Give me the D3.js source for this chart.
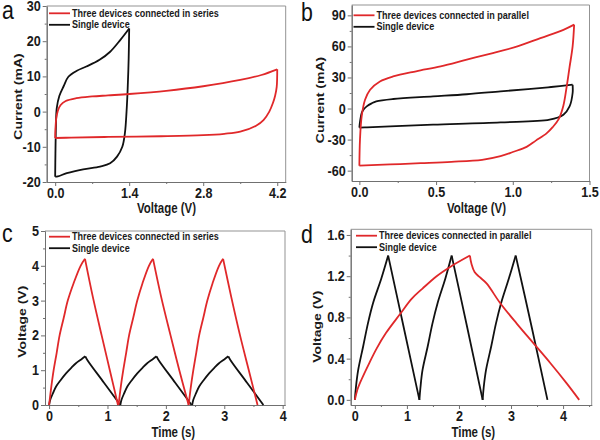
<!DOCTYPE html>
<html><head><meta charset="utf-8">
<script src="https://cdn.jsdelivr.net/npm/d3@7"></script>
<style>body{margin:0;background:#fff}svg{display:block}text{font-family:"Liberation Sans",Arial,sans-serif}</style>
</head><body><svg id="chart" width="600" height="440"></svg>
<script>
// ---------- DATA ----------
// Panel a: CV, series (red) & single (black) — [voltage V, current mA]
const aSeriesUpper = [[0,-7.5],[0.005,-5],[0.02,-2],[0.05,0.2],[0.1,1.8],[0.2,3.0],[0.4,3.8],[0.7,4.3],[1.0,4.6],[1.4,5.0],[2.1,5.9],[2.8,7.2],[3.5,9.0],[3.9,10.4],[4.2,12]];
const aSeriesLower = [[4.2,12],[4.19,7],[4.16,4.5],[4.12,2.5],[4.05,0],[3.94,-2.4],[3.8,-4.0],[3.5,-5.7],[3.2,-6.3],[2.8,-6.7],[2.0,-7.0],[1.0,-7.2],[0.3,-7.4],[0,-7.5]];
const aSingleUpper = [[0.0,-18.5],[0.005,-12],[0.015,-4],[0.03,1],[0.08,4.5],[0.16,7.2],[0.25,9.9],[0.41,11.6],[0.59,12.8],[0.84,14.7],[1.04,17],[1.23,20.3],[1.4,23.6]];
const aSingleLower = [[1.4,23.6],[1.39,15],[1.37,6],[1.35,0],[1.32,-6],[1.27,-10],[1.17,-12.8],[1.04,-14.7],[0.85,-15.6],[0.53,-16.4],[0.22,-17.5],[0.05,-18.4],[0.0,-18.5]];
// Panel b: CV, parallel (red) & single (black)
const bParallelUpper = [[0,-55.2],[0.004,-30],[0.015,-7.6],[0.037,8.5],[0.07,18.2],[0.134,26.2],[0.22,31],[0.37,36],[0.53,40.7],[0.7,47.2],[0.87,53.6],[1.03,60],[1.18,68],[1.33,76],[1.4,81]];
const bParallelLower = [[1.4,81],[1.39,60],[1.37,40],[1.35,20],[1.33,3],[1.30,-10],[1.26,-18],[1.22,-24],[1.15,-31],[1.09,-37],[1.0,-42],[0.92,-46],[0.8,-49.5],[0.6,-51.5],[0.4,-52.8],[0.2,-54],[0,-55.2]];
const bSingleUpper = [[0,-18.5],[0.005,-12],[0.015,-4.3],[0.03,-0.5],[0.048,2.1],[0.08,5],[0.11,6.9],[0.22,9.2],[0.48,11.7],[0.7,13.8],[0.92,16.6],[1.1,18.8],[1.25,20.8],[1.39,23]];
const bSingleLower = [[1.39,23],[1.39,15],[1.37,2],[1.33,-6],[1.24,-10.8],[0.92,-13.4],[0.48,-15.6],[0.2,-17.2],[0.05,-18.2],[0,-18.5]];
// Panel c: GCD, series (red) & single (black) — [time s, voltage V]
const cSeries = [
  [[0,0],[0.04,0.55],[0.078,1.0],[0.13,1.5],[0.18,2.0],[0.25,2.5],[0.32,3.0],[0.42,3.5],[0.54,4.0],[0.615,4.2]],
  [[0.615,4.2],[0.75,3.1],[0.9,2.0],[1.04,1.0],[1.18,0]],
  [[1.19,0],[1.23,0.55],[1.27,1.0],[1.32,1.5],[1.37,2.0],[1.44,2.5],[1.51,3.0],[1.6,3.5],[1.71,4.0],[1.78,4.2]],
  [[1.78,4.2],[1.92,3.1],[2.08,2.0],[2.23,1.0],[2.39,0]],
  [[2.39,0],[2.43,0.55],[2.47,1.0],[2.52,1.5],[2.57,2.0],[2.64,2.5],[2.71,3.0],[2.8,3.5],[2.91,4.0],[2.98,4.2]],
  [[2.98,4.2],[3.12,3.1],[3.27,2.0],[3.42,1.0],[3.57,0]]
];
const cSingle = [
  [[0,0],[0.02,0.15],[0.067,0.34],[0.12,0.53],[0.2,0.72],[0.29,0.91],[0.38,1.07],[0.46,1.2],[0.55,1.31],[0.62,1.4]],
  [[0.62,1.4],[0.66,1.28],[0.94,0.64],[1.22,0]],
  [[1.22,0],[1.24,0.15],[1.287,0.34],[1.34,0.53],[1.42,0.72],[1.51,0.91],[1.6,1.07],[1.68,1.2],[1.77,1.31],[1.84,1.4]],
  [[1.84,1.4],[1.88,1.28],[2.16,0.64],[2.44,0]],
  [[2.45,0],[2.47,0.15],[2.517,0.34],[2.57,0.53],[2.65,0.72],[2.74,0.91],[2.83,1.07],[2.91,1.2],[3.0,1.31],[3.07,1.4]],
  [[3.07,1.4],[3.11,1.28],[3.39,0.64],[3.67,0]]
];
// Panel d: GCD, parallel (red) & single (black)
const dParallel = [
  [[0,0],[0.05,0.1],[0.13,0.2],[0.27,0.35],[0.42,0.5],[0.6,0.65],[0.865,0.83],[1.09,0.98],[1.3,1.08],[1.57,1.2],[1.83,1.29],[2.21,1.4]],
  [[2.21,1.4],[2.24,1.32],[2.3,1.24],[2.4,1.19],[2.53,1.13],[2.79,0.94],[3.11,0.74],[3.43,0.55],[3.75,0.36],[4.07,0.16],[4.31,0]]
];
const dSingle = [
  [[0,0],[0.02,0.12],[0.064,0.29],[0.16,0.52],[0.25,0.74],[0.35,0.94],[0.51,1.18],[0.64,1.4]],
  [[0.64,1.4],[0.94,0.7],[1.24,0]],
  [[1.24,0],[1.26,0.12],[1.30,0.29],[1.40,0.52],[1.49,0.74],[1.59,0.94],[1.74,1.18],[1.86,1.4]],
  [[1.86,1.4],[2.16,0.7],[2.455,0]],
  [[2.455,0],[2.475,0.12],[2.52,0.29],[2.62,0.52],[2.71,0.74],[2.81,0.94],[2.96,1.18],[3.09,1.4]],
  [[3.09,1.4],[3.40,0.7],[3.70,0]]
];
// Ticks
const aXTicks = [0,1.4,2.8,4.2], aXLabels = ["0.0","1.4","2.8","4.2"], aXMinor = [0.7,2.1,3.5];
const aYTicks = [-20,-10,0,10,20,30], aYLabels = ["-20","-10","0","10","20","30"], aYMinor = [-15,-5,5,15,25];
const bXTicks = [0,0.5,1.0,1.5], bXLabels = ["0.0","0.5","1.0","1.5"], bXMinor = [0.25,0.75,1.25];
const bYTicks = [-60,-30,0,30,60,90], bYLabels = ["-60","-30","0","30","60","90"], bYMinor = [-45,-15,15,45,75];
const cXTicks = [0,1,2,3,4], cXLabels = ["0","1","2","3","4"], cXMinor = [0.5,1.5,2.5,3.5];
const cYTicks = [0,1,2,3,4,5], cYLabels = ["0","1","2","3","4","5"], cYMinor = [0.5,1.5,2.5,3.5,4.5];
const dXTicks = [0,1,2,3,4], dXLabels = ["0","1","2","3","4"], dXMinor = [0.5,1.5,2.5,3.5,4.5];
const dYTicks = [0,0.4,0.8,1.2,1.6], dYLabels = ["0.0","0.4","0.8","1.2","1.6"], dYMinor = [0.2,0.6,1.0,1.4];
const legendSeries = ["Three devices connected in series","Single device"];
const legendParallel = ["Three devices connected in parallel","Single device"];

// ---------- DRAW ----------
const svg = d3.select('#chart');
const RED = '#e0282a', BLACK = '#111', AX = '#707070', TXT = '#1a1a1a';
const SX = 0.82, SXT = 0.9;

function htext(g, x, y, s, size, weight, anchor, sx, fill) {
  g.append('text').attr('transform', `translate(${x},${y}) scale(${sx},1)`)
    .attr('text-anchor', anchor).attr('font-size', size).attr('font-weight', weight)
    .attr('fill', fill || TXT).text(s);
}
function vtext(g, x, y, s, size) {
  g.append('text').attr('transform', `translate(${x},${y}) scale(${SX},1) rotate(-90)`)
    .attr('text-anchor', 'middle').attr('font-size', size).attr('font-weight', 'bold')
    .attr('fill', TXT).text(s);
}

function panel(cfg) {
  const g = svg.append('g');
  const x = d3.scaleLinear().domain(cfg.xDomain).range(cfg.xRange);
  const y = d3.scaleLinear().domain(cfg.yDomain).range(cfg.yRange);
  const [x0, x1] = cfg.xRange, [y0, y1] = cfg.yRange;
  // top/right frame
  g.append('path').attr('d', `M${x0},${y1}H${x1}V${y0}`).attr('fill','none').attr('stroke','#939393').attr('stroke-width',1);

  const styleAxis = sel => { sel.select('.domain').attr('stroke', AX); sel.selectAll('line').attr('stroke', AX); };
  // minor ticks
  g.append('g').attr('transform', `translate(0,${y0})`)
    .call(d3.axisBottom(x).tickValues(cfg.xMinor).tickFormat('').tickSize(2).tickSizeOuter(0)).call(styleAxis);
  g.append('g').attr('transform', `translate(${x0},0)`)
    .call(d3.axisLeft(y).tickValues(cfg.yMinor).tickFormat('').tickSize(2).tickSizeOuter(0)).call(styleAxis);
  // major
  const xa = g.append('g').attr('transform', `translate(0,${y0})`)
    .call(d3.axisBottom(x).tickValues(cfg.xTicks).tickFormat((d,i)=>cfg.xLabels[i]).tickSize(4).tickSizeOuter(0).tickPadding(2)).call(styleAxis);
  xa.selectAll('text').attr('font-size', 14).attr('font-weight','bold').attr('fill', TXT)
    .attr('font-family','"Liberation Sans",Arial,sans-serif').attr('transform', `scale(${SXT},1)`);
  const ya = g.append('g').attr('transform', `translate(${x0},0)`)
    .call(d3.axisLeft(y).tickValues(cfg.yTicks).tickFormat((d,i)=>cfg.yLabels[i]).tickSize(4).tickSizeOuter(0).tickPadding(2)).call(styleAxis);
  ya.selectAll('text').attr('font-size', 14).attr('font-weight','bold').attr('fill', TXT)
    .attr('font-family','"Liberation Sans",Arial,sans-serif')
    .attr('x', function(){ return (+this.getAttribute('x')) / SXT; })
    .attr('transform', `scale(${SXT},1)`);

  const line = d3.line().x(d=>x(d[0])).y(d=>y(d[1])).curve(d3.curveCatmullRom.alpha(0.5));
  const draw = (segs, color) => segs.forEach(s => g.append('path').attr('d', line(s))
    .attr('fill','none').attr('stroke', color).attr('stroke-width', 1.8).attr('stroke-linejoin','round'));
  draw(cfg.black, BLACK);
  draw(cfg.red, RED);

  // legend
  const lx = cfg.legend[0], ly = cfg.legend[1];
  [[RED, cfg.legendText[0], 0], [BLACK, cfg.legendText[1], 11.5]].forEach(([c, t, dy]) => {
    g.append('line').attr('x1', lx).attr('x2', lx + 21).attr('y1', ly + dy).attr('y2', ly + dy)
      .attr('stroke', c).attr('stroke-width', 1.8);
    htext(g, lx + 23, ly + dy + 3.6, t, 10.5, 'bold', 'start', 0.86);
  });
  // titles
  htext(g, cfg.xTitlePos[0], cfg.xTitlePos[1], cfg.xTitle, 14, 'bold', 'middle', SX);
  vtext(g, cfg.yTitlePos[0], cfg.yTitlePos[1], cfg.yTitle, 14);
  htext(g, cfg.letterPos[0], cfg.letterPos[1], cfg.letter, 26, 'normal', 'start', SX, '#111');
}

panel({ xDomain:[-0.16,4.36], xRange:[46.7,285.7], yDomain:[-20,30], yRange:[182,6],
  xTicks:aXTicks, xLabels:aXLabels, xMinor:aXMinor, yTicks:aYTicks, yLabels:aYLabels, yMinor:aYMinor,
  red:[aSeriesUpper,aSeriesLower], black:[aSingleUpper,aSingleLower],
  legend:[49,13.3], legendText:legendSeries,
  xTitle:'Voltage (V)', xTitlePos:[166.5,213], yTitle:'Current (mA)', yTitlePos:[22,96.5],
  letter:'a', letterPos:[2,19] });

panel({ xDomain:[-0.05,1.5], xRange:[351.7,589.5], yDomain:[-70,100], yRange:[181,5],
  xTicks:bXTicks, xLabels:bXLabels, xMinor:bXMinor, yTicks:bYTicks, yLabels:bYLabels, yMinor:bYMinor,
  red:[bParallelUpper,bParallelLower], black:[bSingleUpper,bSingleLower],
  legend:[353.5,15.3], legendText:legendParallel,
  xTitle:'Voltage (V)', xTitlePos:[476.5,213], yTitle:'Current (mA)', yTitlePos:[324,100],
  letter:'b', letterPos:[301,21] });

panel({ xDomain:[-0.07,4.04], xRange:[45,285], yDomain:[0,5], yRange:[405,231],
  xTicks:cXTicks, xLabels:cXLabels, xMinor:cXMinor, yTicks:cYTicks, yLabels:cYLabels, yMinor:cYMinor,
  red:cSeries, black:cSingle,
  legend:[49,236.7], legendText:legendSeries,
  xTitle:'Time (s)', xTitlePos:[173.3,436.5], yTitle:'Voltage (V)', yTitlePos:[26,321.7],
  letter:'c', letterPos:[2,242] });

panel({ xDomain:[-0.08,4.55], xRange:[350.7,591.7], yDomain:[-0.05,1.655], yRange:[405,229.3],
  xTicks:dXTicks, xLabels:dXLabels, xMinor:dXMinor, yTicks:dYTicks, yLabels:dYLabels, yMinor:dYMinor,
  red:dParallel, black:dSingle,
  legend:[356,235.7], legendText:legendParallel,
  xTitle:'Time (s)', xTitlePos:[473.3,436.5], yTitle:'Voltage (V)', yTitlePos:[321,326.7],
  letter:'d', letterPos:[301,243] });
</script></body></html>
